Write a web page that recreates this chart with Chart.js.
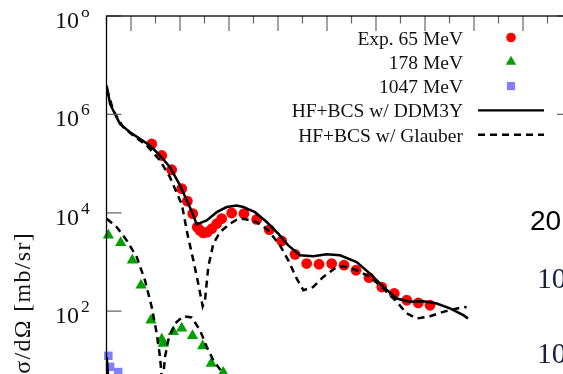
<!DOCTYPE html>
<html>
<head>
<meta charset="utf-8">
<script src="https://cdn.jsdelivr.net/npm/chart.js@4.4.1/dist/chart.umd.min.js"></script>
<style>
    html, body { margin: 0; padding: 0; background: #fff; }
    #wrap { position: relative; width: 563px; height: 374px; overflow: hidden; }
    #wrap canvas { position: absolute; left: 0; top: 0; }
</style>
</head>
<body>
<div id="wrap"><canvas id="xsChart" width="600" height="430"></canvas></div>
<script>
// angle (deg) and cross section (mb/sr)
const exp65Deg = [5.69, 6.51, 7.32, 8.14, 8.60, 9.04, 9.41, 9.63, 9.90, 10.23, 10.59, 11.00, 11.40, 12.22, 13.22,
                  14.26, 15.29, 16.30, 17.39, 18.34, 19.35, 20.38, 21.39, 22.37, 23.43, 24.47, 25.49, 26.51, 27.45, 28.41];
const exp65Val = [2.5e5, 1.46e5, 7.5e4, 3.1e4, 1.73e4, 9.6e3, 5.1e3, 4.4e3, 3.9e3, 4.05e3, 4.75e3, 6.0e3, 7.6e3, 9.9e3, 9.6e3,
                  7.35e3, 4.55e3, 2.67e3, 1.43e3, 930, 900, 930, 860, 680, 480, 310, 230, 167, 147, 132];

const exp178Deg = [2.15, 3.16, 4.11, 4.82, 5.63, 6.51, 6.64, 7.45, 8.14, 9.02, 9.85, 10.55, 11.53];
const exp178Val = [3.48e3, 2.45e3, 1.08e3, 336, 65.6, 27, 22, 38, 45, 31.8, 19.7, 8.7, 5.7];

const exp1047Deg = [2.15, 2.29, 2.96];
const exp1047Val = [12.4, 7.4, 5.8];

const ddm65Deg = [2.02, 2.29, 2.69, 3.10, 3.92, 4.73, 5.55, 6.37, 7.18, 8.00, 8.68, 9.04, 9.36, 10.18, 11.00, 11.81, 12.63,
                  13.17, 14.12, 15.08, 16.02, 16.84, 17.80, 18.88, 19.98, 21.06, 22.42, 23.51, 24.60, 25.69, 26.78, 27.86,
                  28.96, 30.04, 31.13, 31.51];
const ddm65Val = [3.84e6, 1.63e6, 1.02e6, 6.41e5, 4.34e5, 3.18e5, 2.33e5, 1.46e5, 8.45e4, 3.6e4, 1.53e4, 9.6e3, 5.8e3, 7.0e3,
                  1.03e4, 1.31e4, 1.41e4, 1.31e4, 1.03e4, 6.5e3, 3.77e3, 2.18e3, 1.37e3, 1.31e3, 1.43e3, 1.37e3, 1.0e3,
                  582, 311, 181, 155, 160, 143, 114, 83, 71];

const gla65Deg = [2.02, 2.56, 3.37, 4.19, 5.28, 6.37, 7.18, 8.00, 8.14, 8.60, 9.09, 9.49, 9.85, 10.04, 10.31, 10.72, 11.27,
                  12.08, 12.63, 13.17, 14.26, 15.21, 16.16, 16.84, 17.53, 18.07, 18.88, 19.70, 20.79, 21.33, 22.42, 23.51,
                  24.60, 25.69, 26.51, 27.32, 28.41, 29.49, 30.59, 31.40];
const gla65Val = [3.29e6, 1.19e6, 5.47e5, 3.72e5, 2.33e5, 1.16e5, 5.3e4, 1.79e4, 1.53e4, 3.77e3, 1.08e3, 365, 126, 167, 793,
                  2.36e3, 4.06e3, 6.0e3, 7.24e3, 7.59e3, 6.47e3, 4.4e3, 2.18e3, 1.08e3, 460, 267, 311, 497, 793, 818, 679,
                  497, 288, 155, 90, 71, 79, 97, 113, 122];

const gla178Deg = [2.02, 2.83, 3.65, 4.47, 5.14, 5.69, 6.10, 6.37, 6.49, 6.56, 6.64, 6.78, 7.04, 7.59, 8.27, 8.96, 9.63,
                   10.18, 10.72, 11.40, 12.08];
const gla178Val = [7.59e3, 5.13e3, 2.75e3, 1.26e3, 426, 122, 35.3, 11.8, 5.2, 1.5, 5.2, 11.8, 25.8, 56.4, 79, 74.5, 41.2,
                   18.9, 10.1, 5.9, 2.5];

const ddm1047Deg = [2.02, 2.12, 2.29];
const ddm1047Val = [11.7, 5.2, 1.6];

const yDecades = [0, 2, 4, 6, 8];

const toPoints = (xs, ys) => xs.map((v, i) => ({ x: v, y: ys[i] }));

document.addEventListener('DOMContentLoaded', function() {
    const serif = '"Liberation Serif", "Times New Roman", serif';

    // legend rows: label + how to draw its sample
    const legendRows = [
        { text: 'Exp. 65 MeV', style: 'circle', color: '#ff0000', r: 4.8 },
        { text: '178 MeV', style: 'triangle', color: '#00a000', r: 6 },
        { text: '1047 MeV', style: 'rect', color: '#8080ff', r: 5.8 },
        { text: 'HF+BCS w/ DDM3Y', line: [] },
        { text: 'HF+BCS w/ Glauber', line: [7, 5] }
    ];

    const frame = {
        id: 'frame',
        afterDatasetsDraw(chart) {
            const { ctx, chartArea: a, scales: { x, y } } = chart;
            ctx.save();

            // inward ticks
            ctx.strokeStyle = '#666';
            ctx.lineWidth = 1.2;
            ctx.beginPath();
            for (let v = 4; v < 40; v += 4) {
                const px = x.getPixelForValue(v);
                ctx.moveTo(px, a.top); ctx.lineTo(px, a.top + 15);
                ctx.moveTo(px, a.bottom); ctx.lineTo(px, a.bottom - 15);
            }
            for (let v = 2; v < 40; v += 4) {
                const px = x.getPixelForValue(v);
                ctx.moveTo(px, a.top); ctx.lineTo(px, a.top + 7.5);
                ctx.moveTo(px, a.bottom); ctx.lineTo(px, a.bottom - 7.5);
            }
            yDecades.forEach(d => {
                const py = y.getPixelForValue(Math.pow(10, d));
                ctx.moveTo(a.left, py); ctx.lineTo(a.left + 15, py);
                ctx.moveTo(a.right, py); ctx.lineTo(a.right - 15, py);
            });
            ctx.stroke();

            // border
            ctx.strokeStyle = '#000';
            ctx.lineWidth = 1.3;
            ctx.strokeRect(a.left, a.top, a.right - a.left, a.bottom - a.top);

            // y tick labels 10^n
            ctx.fillStyle = '#111';
            ctx.textBaseline = 'alphabetic';
            ctx.textAlign = 'left';
            yDecades.forEach(d => {
                const py = y.getPixelForValue(Math.pow(10, d));
                ctx.font = '24px ' + serif;
                ctx.fillText('10', 55, py + 12);
                ctx.font = '17.5px ' + serif;
                ctx.fillText(String(d), 81, py + 1);
            });

            // y title
            ctx.save();
            ctx.translate(29.5, 232);
            ctx.rotate(-Math.PI / 2);
            ctx.font = '24px ' + serif;
            ctx.letterSpacing = '1.3px';
            ctx.textAlign = 'right';
            ctx.fillText('dσ/dΩ [mb/sr]', 0, 0);
            ctx.restore();

            // legend
            ctx.font = '19.5px ' + serif;
            ctx.textAlign = 'right';
            legendRows.forEach((row, i) => {
                const base = 44.5 + i * 24.3;
                const cy = base - 7;
                ctx.fillStyle = '#111';
                ctx.fillText(row.text, 463, base);
                if (row.line) {
                    ctx.save();
                    ctx.strokeStyle = '#000';
                    ctx.lineWidth = 2.4;
                    ctx.setLineDash(row.line);
                    ctx.beginPath();
                    ctx.moveTo(478, cy); ctx.lineTo(544, cy);
                    ctx.stroke();
                    ctx.restore();
                } else {
                    ctx.fillStyle = row.color;
                    Chart.helpers.drawPoint(ctx, { pointStyle: row.style, radius: row.r, borderWidth: 0, rotation: 0 }, 511, cy);
                }
            });

            // top strip of the source image is blank
            ctx.fillStyle = '#fff';
            ctx.fillRect(0, 0, 600, 10);

            // neighbouring panel overlapping on the right
            ctx.fillRect(526, 195, 80, 240);
            ctx.textAlign = 'left';
            ctx.fillStyle = '#000';
            ctx.font = '28px "Liberation Sans", Arial, sans-serif';
            ctx.fillText('20', 530, 230);
            ctx.fillStyle = '#1a1f3a';
            ctx.font = '29.5px ' + serif;
            ctx.fillText('10', 537, 288);
            ctx.fillText('10', 537, 363);

            ctx.restore();
        }
    };

    const lineSet = (label, xs, ys, dash) => ({
        label: label,
        data: toPoints(xs, ys),
        borderColor: '#000',
        borderWidth: 2.5,
        borderDash: dash,
        pointRadius: 0,
        tension: 0,
        fill: false
    });

    const markerSet = (label, xs, ys, style, color, r) => ({
        label: label,
        data: toPoints(xs, ys),
        showLine: false,
        pointStyle: style,
        pointRadius: r,
        backgroundColor: color,
        borderColor: color,
        pointBorderWidth: 0,
        clip: false
    });

    new Chart(document.getElementById('xsChart').getContext('2d'), {
        type: 'line',
        data: {
            datasets: [
                lineSet('HF+BCS w/ DDM3Y', ddm65Deg, ddm65Val, []),
                lineSet('HF+BCS w/ Glauber', gla65Deg, gla65Val, [7, 5]),
                lineSet('HF+BCS w/ Glauber 178', gla178Deg, gla178Val, [7, 5]),
                lineSet('HF+BCS w/ DDM3Y 1047', ddm1047Deg, ddm1047Val, []),
                markerSet('Exp. 65 MeV', exp65Deg, exp65Val, 'circle', '#ff0000', 5.4),
                markerSet('178 MeV', exp178Deg, exp178Val, 'triangle', '#00a000', 6.5),
                markerSet('1047 MeV', exp1047Deg, exp1047Val, 'rect', '#8080ff', 6)
            ]
        },
        options: {
            responsive: false,
            animation: false,
            devicePixelRatio: 1,
            layout: {
                padding: { left: 106.5, right: 28, top: 16, bottom: 20.4 }
            },
            plugins: {
                legend: { display: false },
                tooltip: { enabled: false }
            },
            scales: {
                x: { type: 'linear', min: 2, max: 40, display: false },
                y: { type: 'logarithmic', min: 1, max: 1e8, display: false }
            }
        },
        plugins: [frame]
    });
});
</script>
</body>
</html>
